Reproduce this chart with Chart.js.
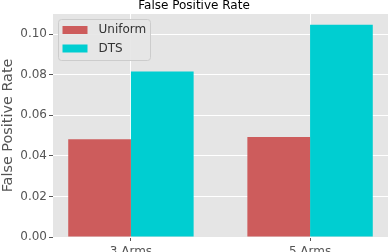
<!DOCTYPE html>
<html>
<head>
<meta charset="utf-8">
<script src="https://cdn.jsdelivr.net/npm/chart.js@4"></script>
<style>
    html, body { margin: 0; padding: 0; background: #ffffff; }
    #wrap { width: 388px; height: 252px; }
</style>
</head>
<body>
<div id="wrap"><canvas id="fprChart" width="388" height="252"></canvas></div>
<script>
const categories = ['3 Arms', '5 Arms'];
const categoryPositions = [0, 1];
const uniformValues = [0.0482, 0.0493];
const dtsValues = [0.0816, 0.1047];
const yTicks = [0, 0.02, 0.04, 0.06, 0.08, 0.10];

const panelBg = '#e5e5e5';
const tickText = '#555555';

function toPoints(values) {
    return values.map((v, i) => ({ x: categoryPositions[i], y: v }));
}

// grey panel behind the plot, ggplot style
const panelPlugin = {
    id: 'panel',
    beforeDraw(chart) {
        const { ctx, chartArea } = chart;
        ctx.save();
        ctx.fillStyle = panelBg;
        ctx.fillRect(chartArea.left, chartArea.top, chartArea.right - chartArea.left, chartArea.bottom - chartArea.top);
        ctx.restore();
    },
};

// legend box inside the upper left of the plot
const insideLegendPlugin = {
    id: 'insideLegend',
    afterDatasetsDraw(chart) {
        const { ctx, chartArea } = chart;
        const x = chartArea.left + 5.5;
        const y = chartArea.top + 5.5;
        const w = 92;
        const h = 41;
        ctx.save();
        ctx.beginPath();
        ctx.roundRect(x, y, w, h, 3);
        ctx.fillStyle = 'rgba(229, 229, 229, 0.9)';
        ctx.fill();
        ctx.strokeStyle = '#cccccc';
        ctx.lineWidth = 1;
        ctx.stroke();
        ctx.font = '12px "DejaVu Sans"';
        ctx.textBaseline = 'middle';
        chart.data.datasets.forEach((ds, i) => {
            const rowY = y + 10.5 + i * 18.5;
            ctx.fillStyle = ds.backgroundColor;
            ctx.fillRect(x + 4, rowY - 4, 25, 8);
            ctx.fillStyle = '#333333';
            ctx.fillText(ds.label, x + 40, rowY);
        });
        ctx.restore();
    },
};

new Chart(document.getElementById('fprChart'), {
    type: 'bar',
    data: {
        datasets: [
            {
                label: 'Uniform',
                data: toPoints(uniformValues),
                backgroundColor: '#cd5c5c',
                categoryPercentage: 0.7,
                barPercentage: 1.0,
            },
            {
                label: 'DTS',
                data: toPoints(dtsValues),
                backgroundColor: '#00ced1',
                categoryPercentage: 0.7,
                barPercentage: 1.0,
            },
        ],
    },
    options: {
        responsive: false,
        animation: false,
        layout: { padding: 0 },
        scales: {
            x: {
                type: 'linear',
                offset: false,
                min: -0.435,
                max: 1.435,
                afterBuildTicks(scale) {
                    scale.ticks = categoryPositions.map(v => ({ value: v }));
                },
                afterFit(scale) {
                    scale.height = 15;
                },
                border: { display: false },
                grid: {
                    offset: false,
                    color: '#ffffff',
                    lineWidth: 1,
                    tickColor: tickText,
                    tickLength: 4,
                },
                ticks: {
                    color: tickText,
                    font: { family: 'DejaVu Sans', size: 12 },
                    padding: 4,
                    maxRotation: 0,
                    callback: (value) => categories[categoryPositions.indexOf(value)],
                },
            },
            y: {
                min: 0,
                max: 0.11,
                afterBuildTicks(scale) {
                    scale.ticks = yTicks.map(v => ({ value: v }));
                },
                afterFit(scale) {
                    scale.width = 53;
                },
                border: { display: false },
                grid: {
                    color: '#ffffff',
                    lineWidth: 1,
                    tickColor: tickText,
                    tickLength: 4,
                },
                ticks: {
                    color: tickText,
                    font: { family: 'DejaVu Sans', size: 12 },
                    padding: 2,
                    callback: (value) => value.toFixed(2),
                },
                title: {
                    display: true,
                    text: 'False Positive Rate',
                    color: tickText,
                    font: { family: 'DejaVu Sans', size: 14.4 },
                    padding: { top: 0, bottom: 0 },
                },
            },
        },
        plugins: {
            legend: { display: false },
            tooltip: { enabled: false },
            title: {
                display: true,
                text: 'False Positive Rate',
                color: '#000000',
                font: { family: 'DejaVu Sans', size: 12, weight: 'normal', lineHeight: 1.0 },
                padding: { top: 0, bottom: 2 },
            },
        },
    },
    plugins: [panelPlugin, insideLegendPlugin],
});
</script>
</body>
</html>
